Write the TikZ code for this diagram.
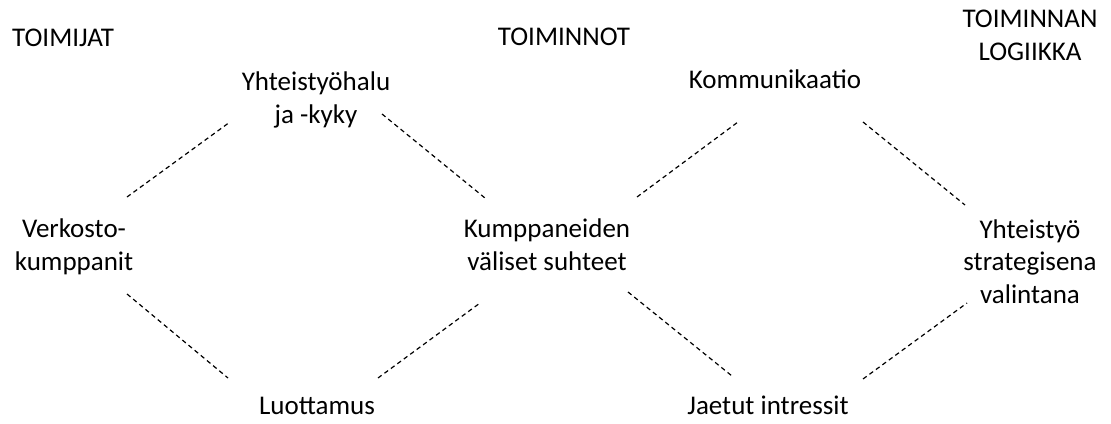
\documentclass[tikz,border=0pt]{standalone}
\usepackage{fontspec}
\setmainfont{Carlito}
\usepackage{tikz}

\tikzset{
  word/.style={align=center, inner sep=0pt, anchor=base, font=\fontsize{27}{32.5}\selectfont},
  link/.style={dash pattern=on 4.5pt off 3.5pt, line width=1.2pt}
}

\begin{document}
\begin{tikzpicture}[x=1pt, y=-1pt]
	\useasboundingbox (0,0) rectangle (1111,423);
	% column heads
	\node (TOIMIJAT) [word, anchor=base west] at (12,46) {TOIMIJAT};
	\node (TOIMINNOT) [word] at (564,45) {TOIMINNOT};
	\node (LOGIIKKA) [word] at (1030,60) {TOIMINNAN\\LOGIIKKA};
	% the two chains (base = last line)
	\node (Yhteistyohalu) [word] at (316,123) {Yhteistyöhalu\\ja -kyky};
	\node (Kommunikaatio) [word] at (775,88) {Kommunikaatio};
	\node (Verkosto) [word] at (74,270) {Verkosto-\\kumppanit};
	\node (Kumppaneiden) [word] at (547,270) {Kumppaneiden\\väliset suhteet};
	\node (Yhteistyo) [word] at (1030,303) {Yhteistyö\\strategisena\\valintana};
	\node (Luottamus) [word] at (317,414) {Luottamus};
	\node (Jaetut) [word] at (768,414) {Jaetut intressit};
	% dashed links
	\draw[link] ([shift={(53,-73)}]Verkosto.base) -- ([shift={(-86,-1)}]Yhteistyohalu.base);
	\draw[link] ([shift={(66,-9)}]Yhteistyohalu.base) -- ([shift={(-62,-72)}]Kumppaneiden.base);
	\draw[link] ([shift={(90,-73)}]Kumppaneiden.base) -- ([shift={(-37,34)}]Kommunikaatio.base);
	\draw[link] ([shift={(88,34)}]Kommunikaatio.base) -- ([shift={(-65,-98)}]Yhteistyo.base);
	\draw[link] ([shift={(53,24)}]Verkosto.base) -- ([shift={(-89,-36)}]Luottamus.base);
	\draw[link] ([shift={(61,-36)}]Luottamus.base) -- ([shift={(-67,33)}]Kumppaneiden.base);
	\draw[link] ([shift={(81,22)}]Kumppaneiden.base) -- ([shift={(-36,-38)}]Jaetut.base);
	\draw[link] ([shift={(95,-35)}]Jaetut.base) -- ([shift={(-63,0)}]Yhteistyo.base);
\end{tikzpicture}
\end{document}
